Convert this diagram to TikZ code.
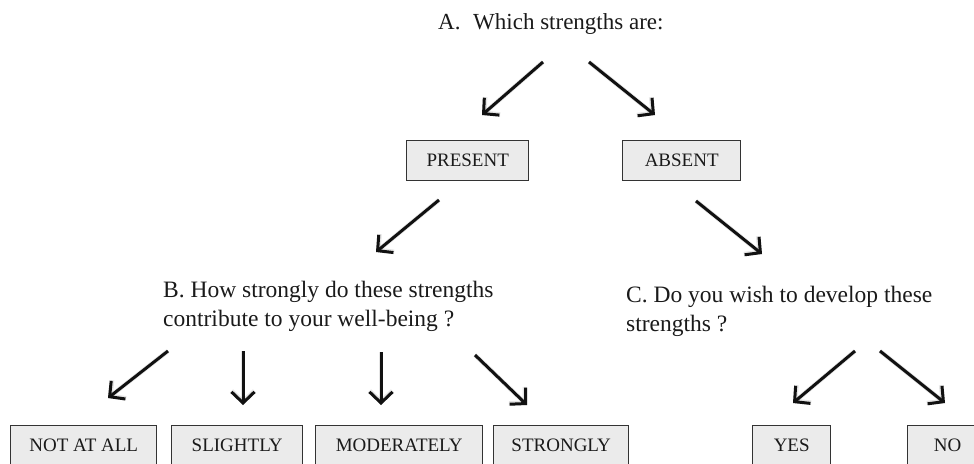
\documentclass[tikz,border=0pt]{standalone}
\usepackage{fontspec}
\setmainfont{Liberation Serif}
\usetikzlibrary{arrows.meta}
\definecolor{boxfill}{HTML}{EBEBEB}
\definecolor{boxline}{HTML}{333333}
\definecolor{arrowcol}{HTML}{111111}
\definecolor{textcol}{HTML}{1A1A1A}
\begin{document}
\begin{tikzpicture}[x=1pt,y=-1pt,
  box/.style={draw=boxline, fill=boxfill, line width=1.4pt, minimum height=40pt,
    inner sep=0pt, anchor=north west, text=textcol, font=\fontsize{19}{22}\selectfont},
  question/.style={font=\fontsize{23.5}{29}\selectfont, align=left, inner sep=0pt,
    anchor=north west, text=textcol},
  arr/.style={line width=3pt, draw=arrowcol, -{Straight Barb[length=11pt,width=23pt]}},
  arrshadow/.style={line width=4.5pt, draw=black, opacity=0.10,
    -{Straight Barb[length=11pt,width=23pt]}, shift={(1pt,3.5pt)}},
]
\useasboundingbox (0,0) rectangle (974,463);
\clip (0,0) rectangle (974,463);

% question texts
\node[question, font=\fontsize{23}{28}\selectfont] (qA) at (438,13) {A.\hspace{0.55em}Which strengths are:};
\node[question] (qB) at (163,281) {B. How strongly do these strengths\\contribute to your well-being ?};
\node[question] (qC) at (626,286) {C. Do you wish to develop these\\strengths ?};

% boxes
\node[box, minimum width=122pt] (present) at (406,140) {PRESENT};
\node[box, minimum width=118pt] (absent) at (622,140) {ABSENT};
\node[box, minimum width=146pt] (notatall) at (10,425) {NOT AT ALL};
\node[box, minimum width=131pt] (slightly) at (171,425) {SLIGHTLY};
\node[box, minimum width=167pt] (moderately) at (315,425) {MODERATELY};
\node[box, minimum width=135pt] (strongly) at (493,425) {STRONGLY};
\node[box, minimum width=78pt] (yes) at (752,425) {YES};
\node[box, minimum width=80pt] (no) at (907,425) {NO};

% arrow end points
\coordinate (a1s) at (543,62);  \coordinate (a1e) at (482,115);
\coordinate (a2s) at (589,62);  \coordinate (a2e) at (655,115);
\coordinate (a3s) at (439,200); \coordinate (a3e) at (376,252);
\coordinate (a4s) at (696,201); \coordinate (a4e) at (762,254);
\coordinate (b1s) at (168,351); \coordinate (b1e) at (108,398);
\coordinate (b2s) at (243,351); \coordinate (b2e) at (243,405);
\coordinate (b3s) at (381,352); \coordinate (b3e) at (381,405);
\coordinate (b4s) at (475,355); \coordinate (b4e) at (527,405);
\coordinate (c1s) at (855,351); \coordinate (c1e) at (793,403);
\coordinate (c2s) at (880,351); \coordinate (c2e) at (945,403);

% shadows
\foreach \p in {a1,a2,a3,a4,b1,b2,b3,b4,c1,c2}{
  \draw[arrshadow] (\p s) -- (\p e);
}
% arrows
\draw[arr] (a1s) -- (a1e);
\draw[arr] (a2s) -- (a2e);
\draw[arr] (a3s) -- (a3e);
\draw[arr] (a4s) -- (a4e);
\draw[arr] (b1s) -- (b1e);
\draw[arr] (b2s) -- (b2e);
\draw[arr] (b3s) -- (b3e);
\draw[arr] (b4s) -- (b4e);
\draw[arr] (c1s) -- (c1e);
\draw[arr] (c2s) -- (c2e);
\end{tikzpicture}
\end{document}
